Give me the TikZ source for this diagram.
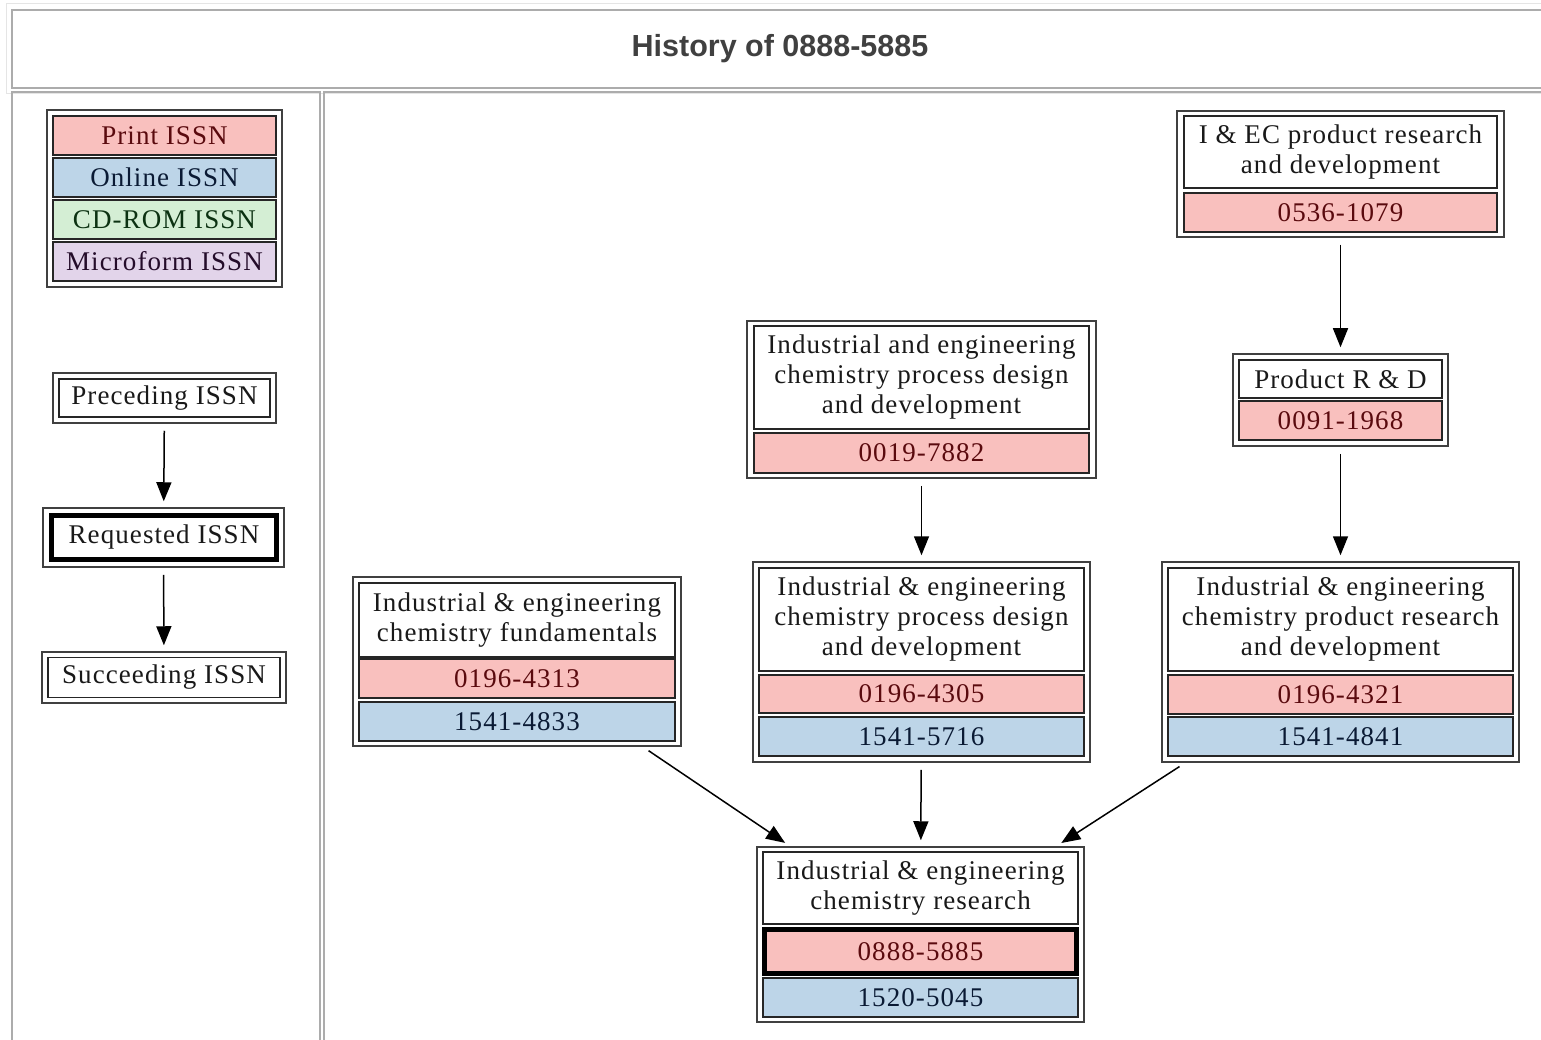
\documentclass[tikz,border=0pt]{standalone}
\usepackage{fontspec}
\setmainfont{Liberation Serif}[LetterSpace=4]
\newfontfamily\headfont{Liberation Sans}
\usetikzlibrary{positioning,arrows.meta}

\definecolor{printfill}{RGB}{249,192,190}
\definecolor{onlinefill}{RGB}{189,213,232}
\definecolor{cdfill}{RGB}{212,238,212}
\definecolor{microfill}{RGB}{226,212,234}
\definecolor{printink}{RGB}{90,10,14}
\definecolor{onlineink}{RGB}{10,26,52}
\definecolor{cdink}{RGB}{12,50,18}
\definecolor{microink}{RGB}{36,12,42}

\tikzset{x=1pt, y=-1pt,
  panel/.style={draw=gray!65, line width=1.5pt},
  frame/.style={draw=black!75, line width=1.5pt, inner sep=0pt},
  cell/.style={draw=black!85, line width=1.5pt, inner sep=0pt, align=center,
    text=black!90, font=\fontsize{27}{30}\selectfont},
  print/.style={cell, fill=printfill, text=printink},
  online/.style={cell, fill=onlinefill, text=onlineink},
  req/.style={draw=black, line width=5pt},
  sz/.style 2 args={minimum width=#1pt, minimum height=#2pt},
  >={Triangle[length=19pt,width=15pt]},
  link/.style={->, line width=1.5pt, shorten <=7pt, shorten >=6pt}}

\begin{document}
\begin{tikzpicture}
\clip (0,0) rectangle (1541,1040);
\fill[white] (0,0) rectangle (1541,1040);

% page panels
\draw[gray!20, line width=1pt] (6,4) rectangle (1570,94);
\draw[panel] (12,10) rectangle (1560,88);
\draw[panel] (12,92) rectangle (320,1060);
\draw[panel] (324,92) rectangle (1560,1060);
\node (head) at (780,49) {\headfont\bfseries\color{black!75}\fontsize{30.5}{32}\selectfont History of 0888-5885};

% legend
\node[frame, sz={235}{177}] (lgd) at (164.5,198.5) {};
\node[print, sz={223}{39}] (lgdprint) at (164.5,135.5) {Print ISSN};
\node[online, sz={223}{39}] (lgdonline) at (164.5,177.5) {Online ISSN};
\node[cell, fill=cdfill, text=cdink, sz={223}{39}] (lgdcd) at (164.5,219.5) {CD-ROM ISSN};
\node[cell, fill=microfill, text=microink, sz={223}{39}] (lgdmicro) at (164.5,261.5) {Microform ISSN};

\node[frame, sz={223}{50}] (prec) at (164.5,398) {};
\node[cell, sz={211}{38}] (precin) at (164.5,398) {Preceding ISSN};
\node[frame, sz={241}{59}] (req) at (163.5,537.5) {};
\node[cell, req, sz={225}{44}] (reqin) at (164,537.5) {Requested ISSN};
\node[frame, sz={244}{51}] (succ) at (164,677.5) {};
\node[cell, sz={232}{40}] (succin) at (164,677.5) {Succeeding ISSN};

\draw[link] (prec) to[shorten <=9pt] (req);
\draw[link] (req) to[shorten <=8pt, shorten >=8pt] (succ);

% history records
\node[frame, sz={327}{126}] (iecprdev) at (1340.5,174) {};
\node[cell, sz={313}{72}] (iecprdevt) at (1340.5,152) {I \& EC product research\\and development};
\node[print, sz={313}{39}] (iecprdevp) at (1340.5,212.5) {0536-1079};

\node[frame, sz={215}{92}] (prdt) at (1340.5,400) {};
\node[cell, sz={203}{38}] (prdtt) at (1340.5,379) {Product R \& D};
\node[print, sz={203}{39}] (prdtp) at (1340.5,420.5) {0091-1968};

\node[frame, sz={357}{200}] (iecprod) at (1340.5,662) {};
\node[cell, sz={345}{103}] (iecprodt) at (1340.5,619.5) {Industrial \& engineering\\chemistry product research\\and development};
\node[print, sz={345}{39}] (iecprodp) at (1340.5,694.5) {0196-4321};
\node[online, sz={345}{39}] (iecprodo) at (1340.5,736.5) {1541-4841};

\node[frame, sz={349}{157}] (iecpdd) at (921.5,399.5) {};
\node[cell, sz={335}{103}] (iecpddt) at (921.5,377.5) {Industrial and engineering\\chemistry process design\\and development};
\node[print, sz={335}{40}] (iecpddp) at (921.5,453) {0019-7882};

\node[frame, sz={337}{200}] (iecpd) at (921.5,662) {};
\node[cell, sz={325}{103}] (iecpdt) at (921.5,619.5) {Industrial \& engineering\\chemistry process design\\and development};
\node[print, sz={325}{38}] (iecpdp) at (921.5,694) {0196-4305};
\node[online, sz={325}{39}] (iecpdo) at (921.5,736.5) {1541-5716};

\node[frame, sz={328}{169}] (iecfund) at (517,661.5) {};
\node[cell, sz={316}{74}] (iecfundt) at (517,620) {Industrial \& engineering\\chemistry fundamentals};
\node[print, sz={316}{39}] (iecfundp) at (517,678.5) {0196-4313};
\node[online, sz={316}{39}] (iecfundo) at (517,721.5) {1541-4833};

\node[frame, sz={327}{175}] (iecres) at (920.5,934.5) {};
\node[cell, sz={315}{72}] (iecrest) at (920.5,888) {Industrial \& engineering\\chemistry research};
\node[print, req, sz={312}{44}] (iecresp) at (920.5,951.5) {0888-5885};
\node[online, sz={315}{39}] (iecreso) at (920.5,997.5) {1520-5045};

\draw[link] (iecprdev) to (prdt);
\draw[link] (prdt) to (iecprod);
\draw[link] (iecpdd) to (iecpd);
\draw[link] (iecfund) to (iecres);
\draw[link] (iecpd) to (iecres);
\draw[link] (iecprod) to (iecres);

\end{tikzpicture}
\end{document}
